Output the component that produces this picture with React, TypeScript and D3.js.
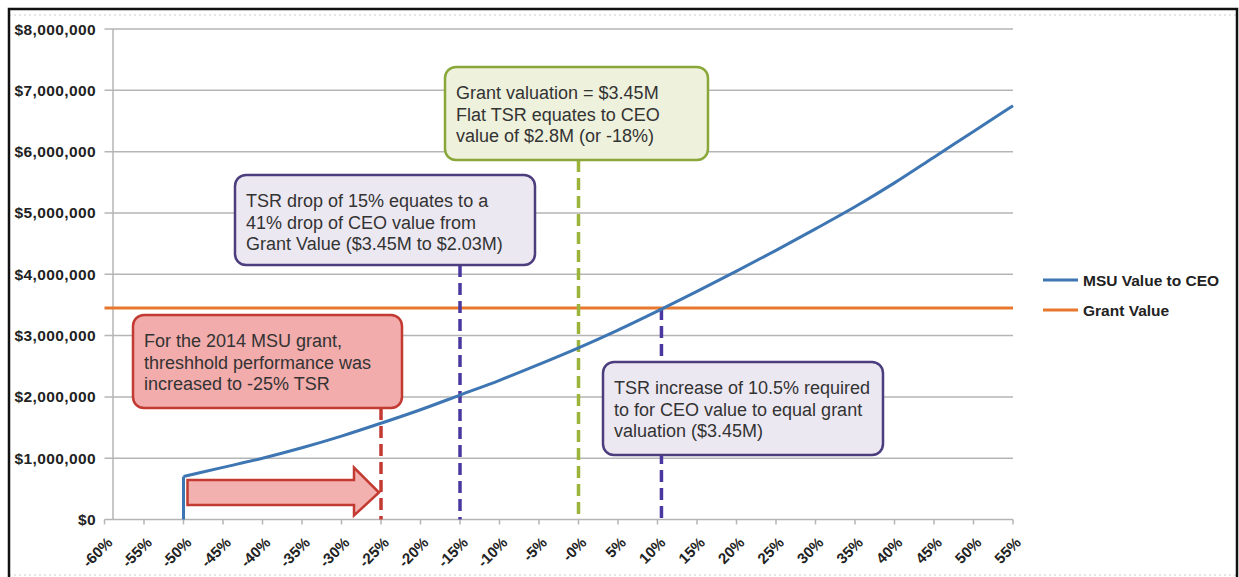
import React from "react";
import * as d3 from "d3";

// ---- data ----
const xTickValues = [-60, -55, -50, -45, -40, -35, -30, -25, -20, -15, -10, -5, 0, 5, 10, 15, 20, 25, 30, 35, 40, 45, 50, 55];
const xTickLabels = ["-60%", "-55%", "-50%", "-45%", "-40%", "-35%", "-30%", "-25%", "-20%", "-15%", "-10%", "-5%", "-0%", "5%", "10%", "15%", "20%", "25%", "30%", "35%", "40%", "45%", "50%", "55%"];
const yTickValues = [0, 1000000, 2000000, 3000000, 4000000, 5000000, 6000000, 7000000, 8000000];

// MSU value to CEO: threshold drop at -50% TSR, then the curve
const msuTsr = [-50, -50, -45, -40, -35, -30, -25, -20, -15, -10, -5, 0, 5, 10, 15, 20, 25, 30, 35, 40, 45, 50, 55];
const msuValue = [0, 700000, 850000, 1000000, 1170000, 1360000, 1570000, 1790000, 2030000, 2270000, 2530000, 2800000, 3090000, 3400000, 3720000, 4050000, 4390000, 4740000, 5100000, 5490000, 5910000, 6330000, 6750000];

const grantTsr = [-60, 55];
const grantValue = [3450000, 3450000];

const seriesNames = ["MSU Value to CEO", "Grant Value"];

const W = 1239;
const H = 577;
const FONT = "'Liberation Sans', Arial, Helvetica, sans-serif";

const x = d3.scaleLinear().domain([-60, 55]).range([104.5, 1013]);
const y = d3.scaleLinear().domain([0, 8000000]).range([519.5, 29]);
const fmt = d3.format("$,.0f");

const BLUE = "#3d76b2";
const ORANGE = "#e8772e";
const GRID = "#b5b5b5";

type Note = {
  lines: string[];
  box: { x: number; y: number; w: number; h: number };
  fill: string;
  stroke: string;
  dash: string;
  tsr: number;
  fromGrant?: boolean;
};

const notes: Note[] = [
  {
    lines: ["For the 2014 MSU grant,", "threshhold performance was", "increased to -25% TSR"],
    box: { x: 133, y: 315, w: 269, h: 93 },
    fill: "#f1acab",
    stroke: "#c23a31",
    dash: "#c23a31",
    tsr: -25,
  },
  {
    lines: ["TSR drop of 15% equates to a", "41% drop of CEO value from", "Grant Value ($3.45M to $2.03M)"],
    box: { x: 235, y: 175, w: 300, h: 90 },
    fill: "#ece8f1",
    stroke: "#4b3d7e",
    dash: "#4a38a0",
    tsr: -15,
  },
  {
    lines: ["Grant valuation = $3.45M", "Flat TSR equates to CEO", "value of $2.8M (or -18%)"],
    box: { x: 445, y: 67, w: 263, h: 93 },
    fill: "#eef1dc",
    stroke: "#8aa83a",
    dash: "#9bb53a",
    tsr: 0,
  },
  {
    lines: ["TSR increase of 10.5% required", "to for CEO value to equal grant", "valuation ($3.45M)"],
    box: { x: 603, y: 362, w: 280, h: 93 },
    fill: "#ece8f1",
    stroke: "#4b3d7e",
    dash: "#4a38a0",
    tsr: 10.5,
    fromGrant: true,
  },
];

export default function App() {
  const pts: [number, number][] = msuTsr.map((t, i) => [x(t), y(msuValue[i])]);
  const straight = d3.line();
  const smooth = d3.line().curve(d3.curveMonotoneX);
  const dropPath = straight(pts.slice(0, 2)) || "";
  const curvePath = smooth(pts.slice(1)) || "";
  const grantPts: [number, number][] = grantTsr.map((t, i) => [x(t), y(grantValue[i])]);

  // arrow from -50% to -25%
  const ax0 = x(-50) + 4;
  const ax1 = x(-25) - 2;
  const acy = y(440000);
  const headLen = 25;
  const arrowPath: [number, number][] = [
    [ax0, acy - 12.5],
    [ax1 - headLen, acy - 12.5],
    [ax1 - headLen, acy - 25],
    [ax1, acy],
    [ax1 - headLen, acy + 23],
    [ax1 - headLen, acy + 12.5],
    [ax0, acy + 12.5],
  ];

  return (
    <svg width={W} height={H} style={{ position: "absolute", left: 0, top: 0, background: "#fff" }} fontFamily={FONT}>
      <rect x={0} y={0} width={W} height={H} fill="#fff" />
      {/* outer frame */}
      <line x1={9} y1={15} x2={1236} y2={15} stroke="#ccc" strokeWidth={1} strokeDasharray="2,3" />
      <line x1={9} y1={575} x2={1236} y2={575} stroke="#ccc" strokeWidth={1} strokeDasharray="2,3" />
      <path d={`M9,${H + 5} L9,9 L1237,9 L1237,${H + 5}`} fill="none" stroke="#111" strokeWidth={2.5} />

      {/* gridlines */}
      {yTickValues.map((v) => (
        <line key={v} x1={x(-60)} x2={x(55)} y1={y(v)} y2={y(v)} stroke={GRID} strokeWidth={1.5} />
      ))}
      <line x1={x(-60) + 8.5} x2={x(-60) + 8.5} y1={y(8000000)} y2={y(0)} stroke={GRID} strokeWidth={1.5} />
      {xTickValues.map((v) => (
        <line key={v} x1={x(v)} x2={x(v)} y1={y(0)} y2={y(0) + 5} stroke={GRID} strokeWidth={1.5} />
      ))}

      {/* y labels */}
      {yTickValues.map((v) => (
        <text key={v} x={96} y={y(v) + 5.5} textAnchor="end" fontSize={15.5} fontWeight="bold" letterSpacing={0.4} fill="#222">
          {fmt(v)}
        </text>
      ))}
      {/* x labels */}
      {xTickValues.map((v, i) => (
        <text
          key={v}
          transform={`translate(${x(v) + 9},${y(0) + 24}) rotate(-45)`}
          textAnchor="end"
          fontSize={15}
          fontWeight="bold"
          fill="#222"
        >
          {xTickLabels[i]}
        </text>
      ))}

      {/* grant line */}
      <path d={straight(grantPts) || ""} fill="none" stroke={ORANGE} strokeWidth={3} />

      {/* dashed vertical lines */}
      {notes.map((n, i) => (
        <line
          key={i}
          x1={x(n.tsr)}
          x2={x(n.tsr)}
          y1={n.fromGrant ? y(grantValue[0]) : n.box.y + n.box.h}
          y2={y(0)}
          stroke={n.dash}
          strokeWidth={3.5}
          strokeDasharray="12,6"
        />
      ))}

      {/* MSU line */}
      <path d={dropPath} fill="none" stroke={BLUE} strokeWidth={3} />
      <path d={curvePath} fill="none" stroke={BLUE} strokeWidth={3} strokeLinejoin="round" />

      {/* arrow */}
      <path d={(straight(arrowPath) || "") + "Z"} fill="#f2b0ae" stroke="#c23a31" strokeWidth={2.5} />

      {/* boxes */}
      {notes.map((n, i) => (
        <g key={i}>
          <rect x={n.box.x} y={n.box.y} width={n.box.w} height={n.box.h} rx={11} ry={11} fill={n.fill} stroke={n.stroke} strokeWidth={2.5} />
          {n.lines.map((t, j) => (
            <text key={j} x={n.box.x + 11} y={n.box.y + 32 + j * 21.5} fontSize={18} fill="#333">
              {t}
            </text>
          ))}
        </g>
      ))}

      {/* legend */}
      {seriesNames.map((s, i) => (
        <g key={s}>
          <line x1={1043} x2={1078} y1={280 + i * 30} y2={280 + i * 30} stroke={i === 0 ? BLUE : ORANGE} strokeWidth={3} />
          <text x={1083} y={285.5 + i * 30} fontSize={15.5} fontWeight="bold" fill="#222">
            {s}
          </text>
        </g>
      ))}
    </svg>
  );
}
